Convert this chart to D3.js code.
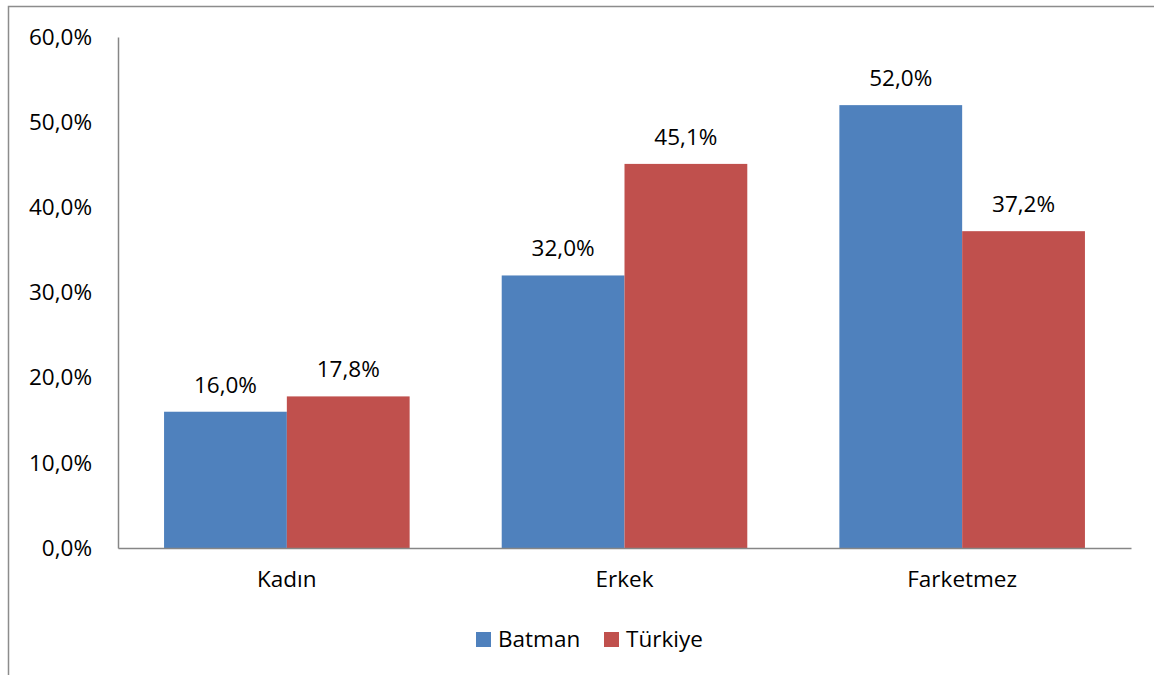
<!DOCTYPE html>
<html><head><meta charset="utf-8">
<script src="https://cdn.jsdelivr.net/npm/d3@7"></script>
<style>
html,body{margin:0;padding:0;background:#fff;}
svg{display:block;font-family:"Open Sans",sans-serif;}
</style></head>
<body><svg id="c" width="1154" height="675"></svg>
<script>
const categories = ["Kadın", "Erkek", "Farketmez"];
const seriesNames = ["Batman", "Türkiye"];
const batman = [16.0, 32.0, 52.0];
const turkiye = [17.8, 45.1, 37.2];
const yTicks = [0, 10, 20, 30, 40, 50, 60];
const colors = ["#4F81BD", "#C0504D"];

(function () {
const svg = d3.select("#c");
const fmt = v => v.toFixed(1).replace(".", ",") + "%";
const FS = 22.5;

// outer frame
svg.append("rect").attr("x", 8.5).attr("y", 6.5).attr("width", 1160).attr("height", 700)
  .attr("fill", "none").attr("stroke", "#8c8c8c").attr("stroke-width", 1.5);

const pLeft = 118, pRight = 1131, pTop = 37, pBottom = 548;
const x0 = d3.scaleBand().domain(categories).range([pLeft, pRight]).paddingInner(0.2727).paddingOuter(0.1364);
const x1 = d3.scaleBand().domain(seriesNames).range([0, x0.bandwidth()]);
const y = d3.scaleLinear().domain([0, 60]).range([pBottom, pTop]);

const data = categories.map((c, i) => ({cat: c, vals: [batman[i], turkiye[i]]}));

const g = svg.append("g");
const groups = g.selectAll("g.grp").data(data).enter().append("g")
  .attr("transform", d => `translate(${x0(d.cat)},0)`);
groups.selectAll("rect").data(d => d.vals.map((v, j) => ({s: seriesNames[j], v, j})))
  .enter().append("rect")
  .attr("x", d => x1(d.s)).attr("width", x1.bandwidth())
  .attr("y", d => y(d.v)).attr("height", d => y(0) - y(d.v))
  .attr("fill", d => colors[d.j]);
groups.selectAll("text").data(d => d.vals.map((v, j) => ({s: seriesNames[j], v, j})))
  .enter().append("text")
  .attr("x", d => x1(d.s) + x1.bandwidth() / 2)
  .attr("y", d => y(d.v) - 19)
  .attr("text-anchor", "middle").attr("font-size", FS).attr("fill", "#000")
  .text(d => fmt(d.v));

// y axis
const yAxis = d3.axisLeft(y).tickValues(yTicks).tickSize(0).tickPadding(26).tickFormat(fmt);
const ya = svg.append("g").attr("transform", `translate(${pLeft},0)`).call(yAxis);
ya.select(".domain").attr("stroke", "#868686").attr("stroke-width", 1.5);
ya.selectAll("text").attr("font-size", FS).attr("font-family", "Open Sans").attr("fill", "#000");

// x axis
const xAxis = d3.axisBottom(x0).tickSize(0).tickPadding(23);
const xa = svg.append("g").attr("transform", `translate(0,${pBottom})`).call(xAxis);
xa.select(".domain").attr("stroke", "#868686").attr("stroke-width", 1.5);
xa.selectAll("text").attr("font-size", FS).attr("font-family", "Open Sans").attr("fill", "#000");

// legend
const legX = [476, 604];
const leg = svg.append("g");
seriesNames.forEach((s, i) => {
  leg.append("rect").attr("x", legX[i]).attr("y", 632).attr("width", 15).attr("height", 15).attr("fill", colors[i]);
  leg.append("text").attr("x", legX[i] + 22).attr("y", 639.5).attr("dy", "0.35em")
    .attr("font-size", FS).attr("fill", "#000").text(s);
});
})();
</script></body></html>
